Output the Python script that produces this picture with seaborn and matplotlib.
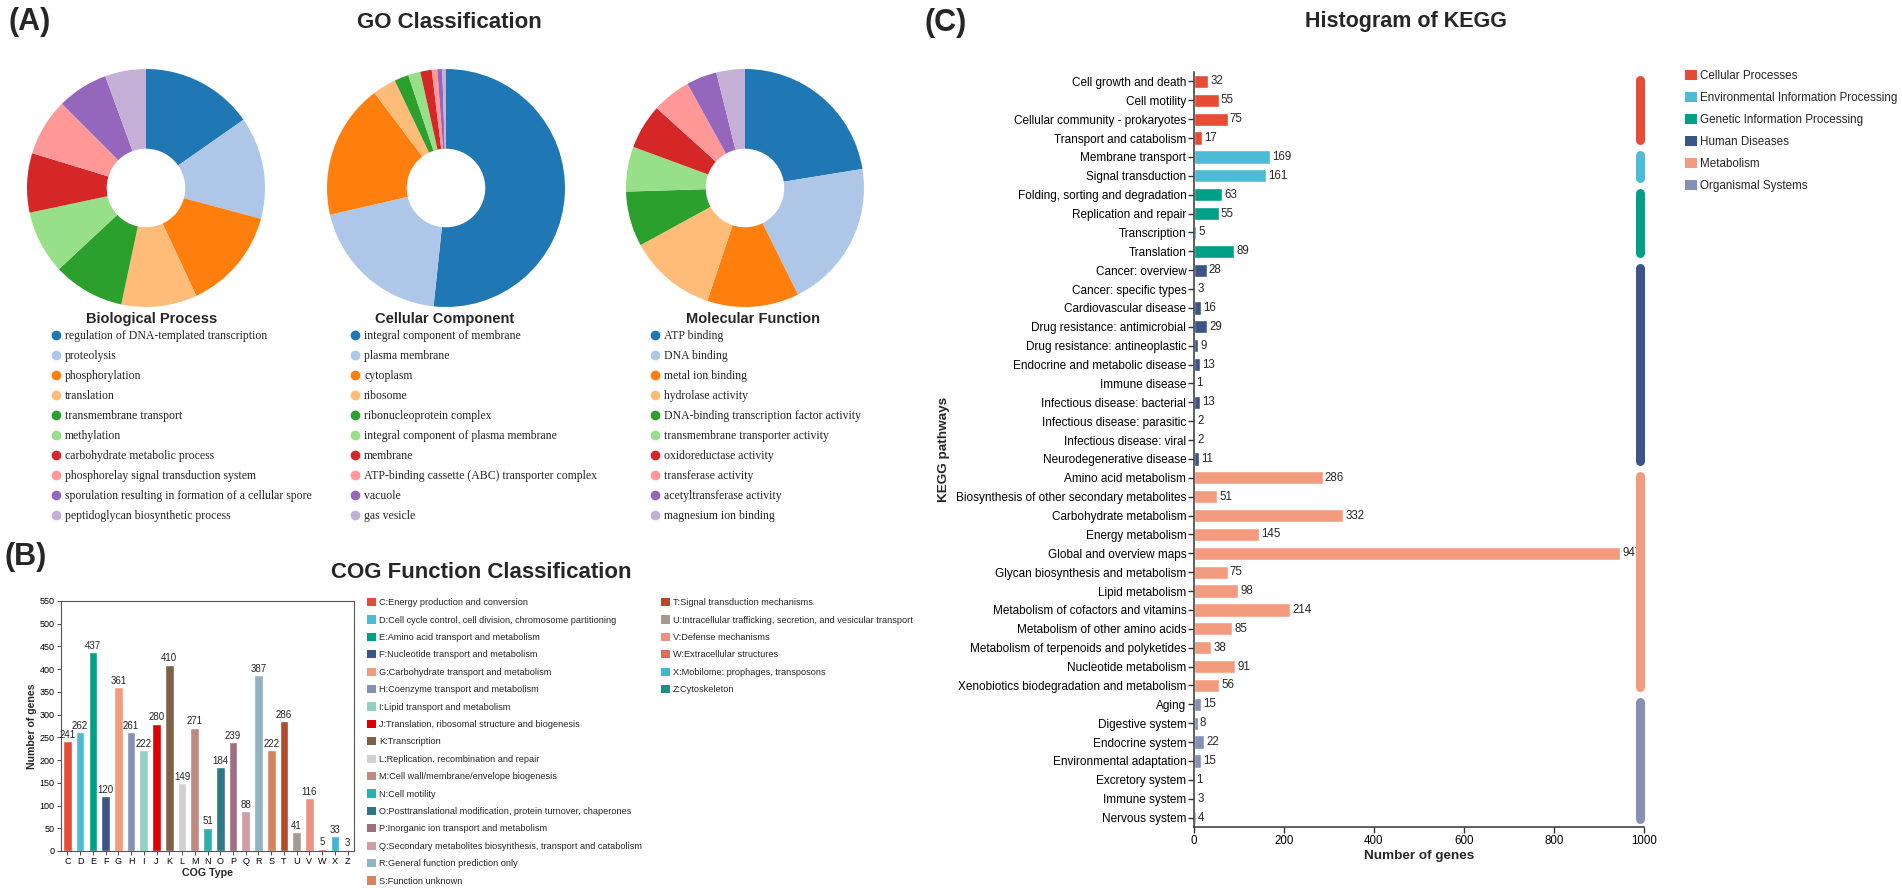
import matplotlib
matplotlib.use("Agg")
import matplotlib.pyplot as plt
import seaborn as sns
from matplotlib.lines import Line2D
from matplotlib.patches import Patch

# ---------------- data ----------------
bp_labels = ["regulation of DNA-templated transcription", "proteolysis", "phosphorylation",
             "translation", "transmembrane transport", "methylation",
             "carbohydrate metabolic process", "phosphorelay signal transduction system",
             "sporulation resulting in formation of a cellular spore",
             "peptidoglycan biosynthetic process"]
bp_values = [55, 50, 50, 37, 35, 31, 29, 28, 25, 20]

cc_labels = ["integral component of membrane", "plasma membrane", "cytoplasm", "ribosome",
             "ribonucleoprotein complex", "integral component of plasma membrane", "membrane",
             "ATP-binding cassette (ABC) transporter complex", "vacuole", "gas vesicle"]
cc_values = [186, 71, 66, 11.5, 7, 6, 5.6, 2.7, 2.4, 1.8]

mf_labels = ["ATP binding", "DNA binding", "metal ion binding", "hydrolase activity",
             "DNA-binding transcription factor activity", "transmembrane transporter activity",
             "oxidoreductase activity", "transferase activity", "acetyltransferase activity",
             "magnesium ion binding"]
mf_values = [81, 73, 45, 43, 27, 22, 22, 19, 15, 14]

cog_letters = list("CDEFGHIJKLMNOPQRSTUVWXZ")
cog_counts = [241, 262, 437, 120, 361, 261, 222, 280, 410, 149, 271, 51, 184, 239, 88, 387,
              222, 286, 41, 116, 5, 33, 3]
cog_names = ["C:Energy production and conversion",
             "D:Cell cycle control, cell division, chromosome partitioning",
             "E:Amino acid transport and metabolism",
             "F:Nucleotide transport and metabolism",
             "G:Carbohydrate transport and metabolism",
             "H:Coenzyme transport and metabolism",
             "I:Lipid transport and metabolism",
             "J:Translation, ribosomal structure and biogenesis",
             "K:Transcription",
             "L:Replication, recombination and repair",
             "M:Cell wall/membrane/envelope biogenesis",
             "N:Cell motility",
             "O:Posttranslational modification, protein turnover, chaperones",
             "P:Inorganic ion transport and metabolism",
             "Q:Secondary metabolites biosynthesis, transport and catabolism",
             "R:General function prediction only",
             "S:Function unknown",
             "T:Signal transduction mechanisms",
             "U:Intracellular trafficking, secretion, and vesicular transport",
             "V:Defense mechanisms",
             "W:Extracellular structures",
             "X:Mobilome: prophages, transposons",
             "Z:Cytoskeleton"]
cog_colors = ["#E64B35", "#4DBBD5", "#00A087", "#3C5488", "#F39B7F", "#8491B4", "#91D1C2",
              "#DC0000", "#7E6148", "#D0D0D0", "#BE8A80", "#2BB0AE", "#2E7887", "#9E6F80",
              "#CD9FA5", "#8FB3C1", "#D7845E", "#B24A2C", "#A59A8E", "#EB9283", "#DE6E5C",
              "#40B7D2", "#268B83"]

kegg_names = ["Cell growth and death", "Cell motility", "Cellular community - prokaryotes",
              "Transport and catabolism", "Membrane transport", "Signal transduction",
              "Folding, sorting and degradation", "Replication and repair", "Transcription",
              "Translation", "Cancer: overview", "Cancer: specific types",
              "Cardiovascular disease", "Drug resistance: antimicrobial",
              "Drug resistance: antineoplastic", "Endocrine and metabolic disease",
              "Immune disease", "Infectious disease: bacterial", "Infectious disease: parasitic",
              "Infectious disease: viral", "Neurodegenerative disease", "Amino acid metabolism",
              "Biosynthesis of other secondary metabolites", "Carbohydrate metabolism",
              "Energy metabolism", "Global and overview maps",
              "Glycan biosynthesis and metabolism", "Lipid metabolism",
              "Metabolism of cofactors and vitamins", "Metabolism of other amino acids",
              "Metabolism of terpenoids and polyketides", "Nucleotide metabolism",
              "Xenobiotics biodegradation and metabolism", "Aging", "Digestive system",
              "Endocrine system", "Environmental adaptation", "Excretory system",
              "Immune system", "Nervous system"]
kegg_counts = [32, 55, 75, 17, 169, 161, 63, 55, 5, 89, 28, 3, 16, 29, 9, 13, 1, 13, 2, 2, 11,
               286, 51, 332, 145, 947, 75, 98, 214, 85, 38, 91, 56, 15, 8, 22, 15, 1, 3, 4]
kegg_classes = ["Cellular Processes", "Environmental Information Processing",
                "Genetic Information Processing", "Human Diseases", "Metabolism",
                "Organismal Systems"]
kegg_class_sizes = [4, 2, 4, 11, 12, 7]
kegg_class_colors = ["#E64B35", "#4DBBD5", "#00A087", "#3C5488", "#F39B7F", "#8491B4"]

# ---------------- style ----------------
sns.set_theme(style="ticks")
plt.rcParams["font.family"] = ["Liberation Sans", "DejaVu Sans"]
serif = ["Liberation Serif", "DejaVu Serif"]

W, H = 1902, 893
fig = plt.figure(figsize=(W / 100, H / 100), dpi=100)


def fx(px):
    return px / W


def fy(py):
    return 1 - py / H


# --- panel labels and titles ---
for txt, x, y in [("(A)", 8, 22), ("(B)", 5, 557), ("(C)", 924, 23)]:
    fig.text(fx(x), fy(y), txt, fontsize=22, fontweight="bold", ha="left", va="center")
fig.text(fx(449), fy(23), "GO Classification", fontsize=16, fontweight="bold", ha="center", va="center")
fig.text(fx(481), fy(572), "COG Function Classification", fontsize=16, fontweight="bold",
         ha="center", va="center")
fig.text(fx(1406), fy(22), "Histogram of KEGG", fontsize=15.5, fontweight="bold", ha="center", va="center")

# ---------------- (A) GO donuts ----------------
go_palette = sns.color_palette("tab20", 10)
R = 119
pies = [(146, 152, 51, "Biological Process", bp_labels, bp_values),
        (446, 445, 350, "Cellular Component", cc_labels, cc_values),
        (745, 753, 650, "Molecular Function", mf_labels, mf_values)]
for cx, tx, lx, title, labels, values in pies:
    ax = fig.add_axes([fx(cx - R), fy(188 + R), 2 * R / W, 2 * R / H])
    ax.pie(values, colors=go_palette, startangle=90, counterclock=False, radius=1,
           wedgeprops=dict(width=0.67, edgecolor="none"))
    ax.set_xlim(-1, 1)
    ax.set_ylim(-1, 1)
    fig.text(fx(tx), fy(319), title, fontsize=10.5, fontweight="bold", ha="center", va="center")
    handles = [Line2D([], [], marker="o", ls="", markersize=6, markerfacecolor=c, markeredgecolor=c)
               for c in go_palette]
    fig.legend(handles, labels, loc="upper left", bbox_to_anchor=(fx(lx), fy(330)), frameon=False,
               prop={"family": serif, "size": 8.5}, handlelength=0.8, handletextpad=0.4,
               labelspacing=0.68, borderpad=0, borderaxespad=0)

# ---------------- (B) COG bars ----------------
ax2 = fig.add_axes([fx(61), fy(851), 293 / W, 250 / H])
sns.barplot(x=cog_letters, y=cog_counts, hue=cog_letters, palette=cog_colors, legend=False,
            width=0.68, saturation=1, ax=ax2)
for cont in ax2.containers:
    ax2.bar_label(cont, fontsize=7, padding=1)
ax2.set_ylim(0, 550)
ax2.set_yticks(range(0, 551, 50))
ax2.set_xlim(-0.5, 22.5)
ax2.tick_params(axis="both", labelsize=6.5, length=3, width=0.6, pad=1.5, colors="#333333",
                labelcolor="black")
ax2.set_xlabel("COG Type", fontsize=7.7, fontweight="bold", labelpad=1)
ax2.set_ylabel("Number of genes", fontsize=7.6, fontweight="bold", labelpad=2)
for s in ax2.spines.values():
    s.set_color("#555555")
    s.set_linewidth(0.8)

cog_handles = [Patch(facecolor=c, edgecolor="none") for c in cog_colors]
leg_kw = dict(loc="upper left", frameon=False, prop={"size": 6.6}, handlelength=1.0,
              handleheight=1.0, handletextpad=0.3, labelspacing=0.89, borderpad=0, borderaxespad=0)
fig.legend(cog_handles[:17], cog_names[:17], bbox_to_anchor=(fx(367), fy(598)), **leg_kw)
fig.legend(cog_handles[17:], cog_names[17:], bbox_to_anchor=(fx(661), fy(598)), **leg_kw)

# ---------------- (C) KEGG histogram ----------------
kegg_groups = [c for c, n in zip(kegg_classes, kegg_class_sizes) for _ in range(n)]
pal = dict(zip(kegg_classes, kegg_class_colors))
ax3 = fig.add_axes([fx(1194), fy(827), 450 / W, 755 / H])
sns.barplot(x=kegg_counts, y=kegg_names, hue=kegg_groups, palette=pal, dodge=False, legend=False,
            width=0.7, saturation=1, orient="h", ax=ax3)
for cont in ax3.containers:
    ax3.bar_label(cont, fontsize=8.3, padding=1.5)
ax3.set_xlim(0, 1000)
ax3.set_xticks(range(0, 1001, 200))
ax3.set_ylim(len(kegg_names) - 0.5, -0.5)
sns.despine(ax=ax3)
for s in ["left", "bottom"]:
    ax3.spines[s].set_color("#333333")
    ax3.spines[s].set_linewidth(1.1)
ax3.tick_params(axis="y", labelsize=8.5, length=4, width=1, pad=1.5, colors="#333333", labelcolor="black")
ax3.tick_params(axis="x", labelsize=8.3, length=4, width=1, pad=2, colors="#333333", labelcolor="black")
ax3.set_xlabel("Number of genes", fontsize=9.7, fontweight="bold", labelpad=2)
ax3.set_ylabel("KEGG pathways", fontsize=9.7, fontweight="bold", labelpad=4)

# class bars along the right side
start = 0
for cls, n, col in zip(kegg_classes, kegg_class_sizes, kegg_class_colors):
    ax3.plot([991, 991], [start - 0.1, start + n - 1 + 0.1], color=col, lw=6.5,
             solid_capstyle="round", zorder=5, clip_on=False)
    start += n

kegg_handles = [Patch(facecolor=c, edgecolor="none") for c in kegg_class_colors]
fig.legend(kegg_handles, kegg_classes, loc="upper left", bbox_to_anchor=(fx(1685), fy(70)),
           frameon=False, prop={"size": 8.4}, handlelength=1.0, handleheight=1.0,
           handletextpad=0.3, labelspacing=0.83, borderpad=0, borderaxespad=0)

fig.savefig("out.png", dpi=100)
